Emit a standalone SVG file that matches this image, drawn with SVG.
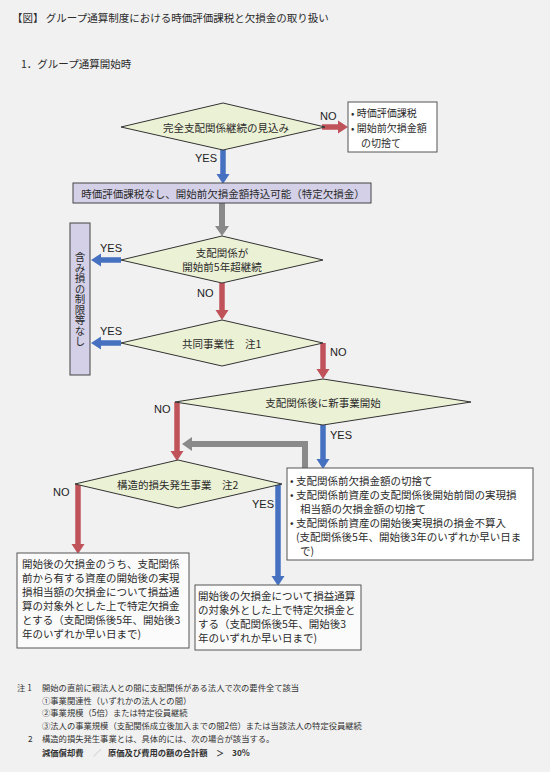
<svg xmlns="http://www.w3.org/2000/svg" width="550" height="772" viewBox="0 0 550 772">
<defs>
<style>
text{font-family:"Noto Sans CJK JP","Noto Sans",sans-serif;fill:#2b2b2b;}
.t{font-size:10.5px;dominant-baseline:central;}
.c{text-anchor:middle;}
.lbl{font-family:"Liberation Sans","Noto Sans",sans-serif;font-size:11px;fill:#222;dominant-baseline:central;}
.dia{fill:#ebf1d4;stroke:#333;stroke-width:1;}
.pur{fill:#d3d0e7;stroke:#444;stroke-width:1;}
.box{fill:#ffffff;stroke:#555;stroke-width:1;}
.box2{fill:#fbfbfb;stroke:#555;stroke-width:1;}
.fn{font-size:8.3px;fill:#333;dominant-baseline:central;}
.red{stroke:#c0525a;stroke-width:5.5;fill:none;}
.blue{stroke:#4670c0;stroke-width:5.5;fill:none;}
.gray{stroke:#8a8a8a;stroke-width:6;fill:none;}
</style>
<marker id="ar" markerUnits="userSpaceOnUse" viewBox="0 -7 10 14" markerWidth="10" markerHeight="14" refX="0" refY="0" orient="auto"><path d="M0,-6.5 L10,0 L0,6.5 z" fill="#c0525a"/></marker>
<marker id="ab" markerUnits="userSpaceOnUse" viewBox="0 -7 10 14" markerWidth="10" markerHeight="14" refX="0" refY="0" orient="auto"><path d="M0,-6.5 L10,0 L0,6.5 z" fill="#4670c0"/></marker>
<marker id="ag" markerUnits="userSpaceOnUse" viewBox="0 -7 10 14" markerWidth="10" markerHeight="14" refX="0" refY="0" orient="auto"><path d="M0,-7 L10,0 L0,7 z" fill="#8a8a8a"/></marker>
</defs>
<rect x="0" y="0" width="550" height="772" fill="#f1f1f1"/>

<g id="title">
<text class="t" x="12" y="17">【図】 グループ通算制度における時価評価課税と欠損金の取り扱い</text>
<text class="t" x="21" y="63">1．グループ通算開始時</text>
</g>

<g id="connectors">
<line class="red" x1="322" y1="127" x2="338" y2="127" marker-end="url(#ar)"/>
<line class="blue" x1="223" y1="150" x2="223" y2="174" marker-end="url(#ab)"/>
<line class="gray" x1="222" y1="203" x2="222" y2="226" marker-end="url(#ag)"/>
<line class="blue" x1="121" y1="260" x2="101" y2="260" marker-end="url(#ab)"/>
<line class="red" x1="222" y1="283" x2="222" y2="310" marker-end="url(#ar)"/>
<line class="blue" x1="121" y1="343" x2="101" y2="343" marker-end="url(#ab)"/>
<line class="red" x1="323" y1="343" x2="323" y2="369" marker-end="url(#ar)"/>
<line class="red" x1="177" y1="402" x2="177" y2="451" marker-end="url(#ar)"/>
<line class="blue" x1="323" y1="425" x2="323" y2="459" marker-end="url(#ab)"/>
<path class="gray" d="M305,468 V444 H192" marker-end="url(#ag)"/>
<line class="red" x1="78" y1="484" x2="78" y2="544" marker-end="url(#ar)"/>
<line class="blue" x1="278" y1="484" x2="278" y2="576" marker-end="url(#ab)"/>
<text class="lbl" x="320" y="116">NO</text>
<text class="lbl" x="195" y="158">YES</text>
<text class="lbl" x="100" y="248">YES</text>
<text class="lbl" x="197" y="293">NO</text>
<text class="lbl" x="100" y="331">YES</text>
<text class="lbl" x="330" y="352">NO</text>
<text class="lbl" x="154" y="409">NO</text>
<text class="lbl" x="330" y="435">YES</text>
<text class="lbl" x="53" y="492">NO</text>
<text class="lbl" x="252" y="504">YES</text>
</g>

<g id="d1">
<polygon class="dia" points="223,103 325,127 223,150 121,127"/>
<text class="t c" x="226" y="127">完全支配関係継続の見込み</text>
</g>

<g id="no1">
<rect class="box" x="348" y="102" width="89" height="50"/>
<text class="t" x="351" y="112" style="font-size:10px">• 時価評価課税</text>
<text class="t" x="351" y="127" style="font-size:10px">• 開始前欠損金額</text>
<text class="t" x="361" y="142" style="font-size:10px">の切捨て</text>
</g>

<g id="b1">
<rect class="pur" x="73" y="183" width="298" height="20"/>
<text class="t c" x="223" y="193">時価評価課税なし、開始前欠損金額持込可能（特定欠損金）</text>
</g>

<g id="d2">
<polygon class="dia" points="222,236 323,260 222,283 121,260"/>
<text class="t c" x="222" y="252">支配関係が</text>
<text class="t c" x="222" y="266">開始前5年超継続</text>
</g>

<g id="side">
<rect class="pur" x="70" y="223" width="20" height="152"/>
<text class="t" x="80" y="252" style="writing-mode:vertical-rl;text-orientation:upright;dominant-baseline:auto">含み損の制限等なし</text>
</g>

<g id="d3">
<polygon class="dia" points="222,320 323,343 222,366 121,343"/>
<text class="t" x="182" y="343">共同事業性　注1</text>
</g>

<g id="d4">
<polygon class="dia" points="323,379 471,402 323,425 175,402"/>
<text class="t c" x="323" y="402">支配関係後に新事業開始</text>
</g>

<g id="yes4">
<rect class="box" x="287" y="468" width="246" height="92"/>
<text class="t" x="290" y="480">• 支配関係前欠損金額の切捨て</text>
<text class="t" x="290" y="494">• 支配関係前資産の支配関係後開始前間の実現損</text>
<text class="t" x="300" y="508">相当額の欠損金額の切捨て</text>
<text class="t" x="290" y="522">• 支配関係前資産の開始後実現損の損金不算入</text>
<text class="t" x="296" y="536">(支配関係後5年、開始後3年のいずれか早い日ま</text>
<text class="t" x="300" y="550">で)</text>
</g>

<g id="d5">
<polygon class="dia" points="178,460 282,484 178,508 75,484"/>
<text class="t" x="117" y="484">構造的損失発生事業　注2</text>
</g>

<g id="no5">
<rect class="box2" x="17" y="553" width="172" height="95"/>
<text class="t" x="22" y="563">開始後の欠損金のうち、支配関係</text>
<text class="t" x="22" y="577">前から有する資産の開始後の実現</text>
<text class="t" x="22" y="591">損相当額の欠損金について損益通</text>
<text class="t" x="22" y="605">算の対象外とした上で特定欠損金</text>
<text class="t" x="22" y="619">とする（支配関係後5年、開始後3</text>
<text class="t" x="22" y="633">年のいずれか早い日まで)</text>
</g>

<g id="yes5">
<rect class="box2" x="195" y="585" width="166" height="65"/>
<text class="t" x="198" y="595">開始後の欠損金について損益通算</text>
<text class="t" x="198" y="609">の対象外とした上で特定欠損金と</text>
<text class="t" x="198" y="623">する（支配関係後5年、開始後3</text>
<text class="t" x="198" y="637">年のいずれか早い日まで)</text>
</g>

<g id="notes">
<text class="fn" x="17" y="687">注 1</text>
<text class="fn" x="42" y="687">開始の直前に親法人との間に支配関係がある法人で次の要件全て該当</text>
<text class="fn" x="42" y="700">①事業関連性（いずれかの法人との間）</text>
<text class="fn" x="42" y="712">②事業規模（5倍）または特定役員継続</text>
<text class="fn" x="42" y="725">③法人の事業規模（支配関係成立後加入までの間2倍）または当該法人の特定役員継続</text>
<text class="fn" x="28" y="738">2</text>
<text class="fn" x="42" y="738">構造的損失発生事業とは、具体的には、次の場合が該当する。</text>
<text class="fn" x="42" y="752" style="font-weight:bold">減価償却費</text>
<text class="fn" x="93" y="752" style="fill:#aaa">／</text>
<text class="fn" x="108" y="752" style="font-weight:bold">原価及び費用の額の合計額</text>
<text class="fn" x="216" y="752" style="font-weight:bold">＞</text>
<text class="fn" x="232" y="752" style="font-weight:bold">30%</text>
</g>
</svg>
